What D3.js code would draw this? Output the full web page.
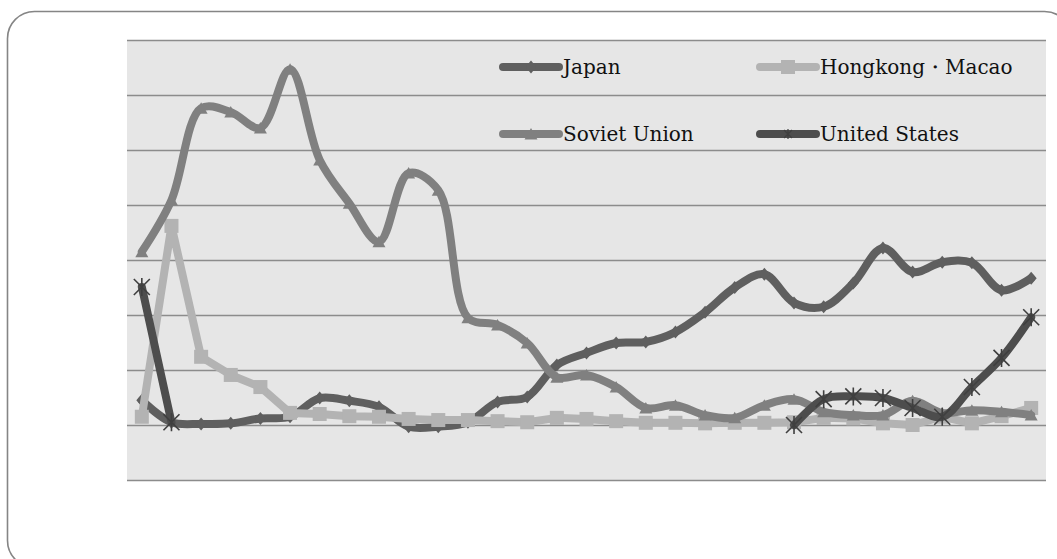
<!DOCTYPE html>
<html>
<head>
<meta charset="utf-8">
<script src="https://cdn.jsdelivr.net/npm/d3@7"></script>
<style>
  html, body { margin: 0; padding: 0; background: #ffffff; overflow: hidden; }
  svg { display: block; }
</style>
</head>
<body>
<svg id="chart" width="1057" height="559"></svg>
<script>
// Trade volume by partner, 1950–1980 (one value per year)
const years = [1950, 1951, 1952, 1953, 1954, 1955, 1956, 1957, 1958, 1959,
               1960, 1961, 1962, 1963, 1964, 1965, 1966, 1967, 1968, 1969,
               1970, 1971, 1972, 1973, 1974, 1975, 1976, 1977, 1978, 1979, 1980];

const japan = [0.45, 0.05, 0.02, 0.03, 0.12, 0.15, 0.49, 0.44, 0.33, -0.03,
               -0.03, 0.05, 0.42, 0.51, 1.09, 1.31, 1.49, 1.51, 1.69, 2.05,
               2.50, 2.74, 2.22, 2.15, 2.58, 3.22, 2.78, 2.96, 2.95, 2.45, 2.67];

const hongkongMacao = [0.15, 3.62, 1.24, 0.91, 0.69, 0.22, 0.20, 0.16, 0.15, 0.11,
                       0.09, 0.09, 0.07, 0.05, 0.13, 0.11, 0.07, 0.04, 0.04, 0.03,
                       0.04, 0.04, 0.05, 0.13, 0.12, 0.03, 0.00, 0.15, 0.03, 0.16, 0.31];

const sovietUnion = [3.15, 4.09, 5.76, 5.69, 5.40, 6.47, 4.82, 4.03, 3.33, 4.58,
                     4.27, 1.95, 1.82, 1.49, 0.87, 0.91, 0.69, 0.31, 0.36, 0.18,
                     0.13, 0.36, 0.47, 0.24, 0.18, 0.18, 0.44, 0.22, 0.27, 0.24, 0.18];

const unitedStates = [2.51, 0.05, null, null, null, null, null, null, null, null,
                      null, null, null, null, null, null, null, null, null, null,
                      null, null, 0.00, 0.47, 0.52, 0.49, 0.31, 0.15, 0.69, 1.22, 1.96];

const gridTicks = [-1, 0, 1, 2, 3, 4, 5, 6, 7];

const seriesNames = ["Japan", "Hongkong・Macao", "Soviet Union", "United States"];

// ---- layout ----
const svg = d3.select("#chart");
const plot = { left: 127, right: 1046, top: 40, bottom: 480 };

const x = d3.scalePoint().domain(years).range([plot.left, plot.right]).padding(0.5);
const y = d3.scaleLinear().domain([-1, 7]).range([plot.bottom, plot.top]);

// rounded frame around the whole chart (runs past the right and bottom edges)
svg.append("rect")
  .attr("x", 7.5).attr("y", 11.5)
  .attr("width", 1064).attr("height", 556)
  .attr("rx", 27).attr("ry", 27)
  .attr("fill", "#ffffff")
  .attr("stroke", "#858585").attr("stroke-width", 1.6);

// plot background
svg.append("rect")
  .attr("x", plot.left).attr("y", plot.top)
  .attr("width", plot.right - plot.left).attr("height", plot.bottom - plot.top)
  .attr("fill", "#e6e6e6");

// horizontal gridlines (no labels)
const grid = svg.append("g")
  .attr("transform", `translate(${plot.left},0)`)
  .call(d3.axisLeft(y).tickValues(gridTicks).tickSize(-(plot.right - plot.left)).tickFormat(""));
grid.select(".domain").remove();
grid.selectAll(".tick line").attr("stroke", "#8c8c8c").attr("stroke-width", 1.6);

// ---- marker shapes ----
function drawMarker(g, kind, color) {
  if (kind === "diamond") {
    g.append("path").attr("d", "M0,-6.5L5.5,0L0,6.5L-5.5,0Z").attr("fill", color);
  } else if (kind === "square") {
    g.append("rect").attr("x", -7).attr("y", -7).attr("width", 14).attr("height", 14).attr("fill", color);
  } else if (kind === "triangle") {
    g.append("path").attr("d", "M0,-6L6.5,5.5L-6.5,5.5Z").attr("fill", color);
  } else if (kind === "star") {
    g.append("path")
      .attr("d", "M-8,-8L8,8M-8,8L8,-8M0,-9L0,9")
      .attr("stroke", "#3f3f3f").attr("stroke-width", 1.6).attr("fill", "none");
  }
}

const series = [
  { name: seriesNames[0], values: japan,          color: "#5f5f5f", marker: "diamond",  curve: d3.curveCatmullRom },
  { name: seriesNames[1], values: hongkongMacao,  color: "#b3b3b3", marker: "square",   curve: d3.curveLinear },
  { name: seriesNames[2], values: sovietUnion,    color: "#808080", marker: "triangle", curve: d3.curveCatmullRom },
  { name: seriesNames[3], values: unitedStates,   color: "#4d4d4d", marker: "star",     curve: d3.curveCatmullRom }
];

series.forEach(s => {
  const pts = years.map((yr, i) => ({ yr, v: s.values[i] }));
  const line = d3.line()
    .defined(d => d.v !== null)
    .x(d => x(d.yr))
    .y(d => y(d.v))
    .curve(s.curve);

  const g = svg.append("g").attr("class", "series");
  g.append("path")
    .attr("d", line(pts))
    .attr("fill", "none")
    .attr("stroke", s.color)
    .attr("stroke-width", 8)
    .attr("stroke-linejoin", "round")
    .attr("stroke-linecap", "round");

  pts.filter(d => d.v !== null).forEach(d => {
    const m = g.append("g").attr("transform", `translate(${x(d.yr)},${y(d.v)})`);
    drawMarker(m, s.marker, s.color);
  });
});

// ---- legend (two rows, two columns inside the plot) ----
const legendPos = [
  { lx: 503, ly: 67 },
  { lx: 760, ly: 67 },
  { lx: 503, ly: 134 },
  { lx: 760, ly: 134 }
];
series.forEach((s, i) => {
  const p = legendPos[i];
  const g = svg.append("g").attr("transform", `translate(${p.lx},${p.ly})`);
  g.append("line")
    .attr("x1", 0).attr("x2", 56).attr("y1", 0).attr("y2", 0)
    .attr("stroke", s.color).attr("stroke-width", 8).attr("stroke-linecap", "round");
  const m = g.append("g").attr("transform", "translate(28,0)");
  if (s.marker === "star") {
    m.append("path").attr("d", "M-4,-4L4,4M-4,4L4,-4M0,-5L0,5")
      .attr("stroke", "#3f3f3f").attr("stroke-width", 1.2);
  } else {
    drawMarker(m, s.marker, s.color);
  }
  g.append("text")
    .attr("x", 60).attr("y", 7)
    .attr("font-family", "'DejaVu Serif', 'Liberation Serif', serif")
    .attr("font-size", 20)
    .attr("fill", "#111111")
    .text(s.name);
});
</script>
</body>
</html>
